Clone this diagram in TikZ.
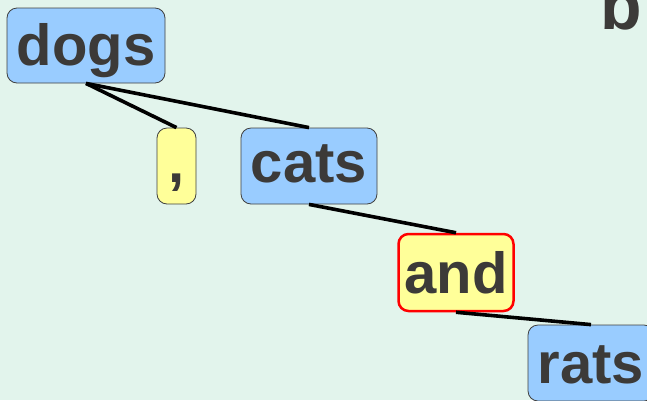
\documentclass[tikz,border=0pt]{standalone}
\usepackage{fontspec}
\setmainfont{Liberation Sans}
\definecolor{bgc}{HTML}{E2F4EC}
\definecolor{bluef}{HTML}{99CCFF}
\definecolor{yellowf}{HTML}{FFFF99}
\definecolor{txt}{HTML}{3C3A38}
\begin{document}
\begin{tikzpicture}[x=1pt,y=1pt,
  word/.style={draw=black!75, line width=0.8pt, rounded corners=10pt, anchor=base,
    font=\fontsize{58}{60}\selectfont\bfseries, text=txt, inner xsep=0pt, inner ysep=0pt},
  blueword/.style={word, fill=bluef},
  yellowword/.style={word, fill=yellowf},
  link/.style={line width=3.6pt, black}]
\useasboundingbox (0,0) rectangle (647,-400);
\fill[bgc] (0,0) rectangle (647,-400);
\clip (0,0) rectangle (647,-400);
\node[font=\fontsize{68}{70}\selectfont\bfseries, text=txt, anchor=base west, inner sep=0pt] (b) at (600,-29) {b};
\node[blueword, minimum width=158pt, text height=57pt, text depth=18pt] (dogs) at (86,-65) {dogs};
\node[yellowword, minimum width=39pt, text height=54pt, text depth=22pt] (comma) at (176.5,-182) {,};
\node[blueword, minimum width=136pt, text height=54pt, text depth=22pt] (cats) at (309,-182) {cats};
\node[yellowword, draw=red, line width=2.5pt, minimum width=115pt, text height=59pt, text depth=18pt] (and) at (456,-293) {and};
\node[blueword, minimum width=126pt, text height=58pt, text depth=18pt] (rats) at (591,-383) {rats};
\draw[link] (dogs.south) -- (comma.north);
\draw[link] (dogs.south) -- (cats.north);
\draw[link] (cats.south) -- (and.north);
\draw[link] (and.south) -- (rats.north);
\end{tikzpicture}
\end{document}
